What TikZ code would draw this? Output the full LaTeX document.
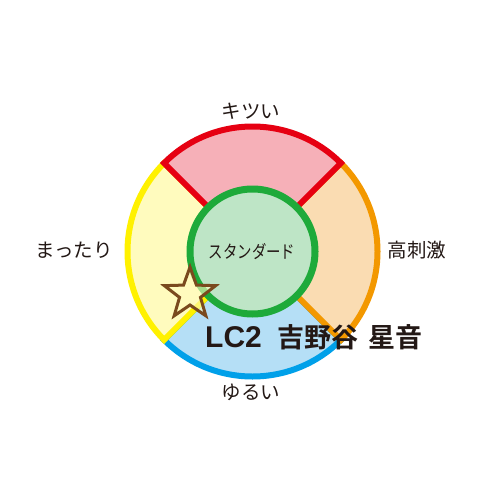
\documentclass[tikz,border=0pt]{standalone}
\usepackage{fontspec}
\usetikzlibrary{calc}
\newfontfamily\cjk{Noto Sans CJK JP}
\newfontfamily\cjkb{Noto Sans CJK JP Bold}
\newfontfamily\latb{Liberation Sans Bold}
\definecolor{cred}{HTML}{E60012}
\definecolor{fred}{HTML}{F6B0B8}
\definecolor{corange}{HTML}{F39800}
\definecolor{forange}{HTML}{FADCB2}
\definecolor{cyellow}{HTML}{FFF100}
\definecolor{fyellow}{HTML}{FFFBBE}
\definecolor{cblue}{HTML}{00A0E9}
\definecolor{fblue}{HTML}{B5DFF6}
\definecolor{cgreen}{HTML}{1EAA3A}
\definecolor{fgreen}{HTML}{BEE5C6}
\definecolor{cbrown}{HTML}{7A4A1E}
\definecolor{ctext}{HTML}{231815}
\begin{document}
\begin{tikzpicture}[x=1pt,y=-1pt,
  sector/.style={line width=6pt,line join=miter},
  lbl/.style={font=\cjk\fontsize{19.5}{19.5}\selectfont,text=ctext,inner sep=0pt},
  namecjk/.style={font=\cjkb\fontsize{27}{27}\selectfont,text=ctext,inner sep=0pt,anchor=west}]
\useasboundingbox (0,0) rectangle (500,500);
\fill[white] (0,0) rectangle (500,500);
\coordinate (c) at (252.5,251.5);
\def\R{125}
\draw[sector,draw=cblue,fill=fblue] (c) -- ++(45:\R) arc[start angle=45,end angle=135,radius=\R] -- cycle;
\draw[sector,draw=corange,fill=forange] (c) -- ++(-45:\R) arc[start angle=-45,end angle=45,radius=\R] -- cycle;
\draw[sector,draw=cyellow,fill=fyellow] (c) -- ++(135:\R) arc[start angle=135,end angle=225,radius=\R] -- cycle;
\draw[sector,draw=cred,fill=fred] (c) -- ++(225:\R) arc[start angle=225,end angle=315,radius=\R] -- cycle;
\draw[line width=7pt,draw=cgreen,fill=fgreen] (c) circle[radius=62.5];
\node[lbl,font=\cjk\fontsize{15.5}{15.5}\selectfont] (std) at (252,252) {\scalebox{0.93}[1.15]{スタンダード}};
\coordinate (s) at (190,294);
\draw[line width=3pt,draw=cbrown,fill=fyellow,fill opacity=0.6,line join=miter]
  ($(s)+(270:27)$) -- ($(s)+(306:11)$) -- ($(s)+(342:27)$) -- ($(s)+(18:11)$) -- ($(s)+(54:27)$)
  -- ($(s)+(90:11)$) -- ($(s)+(126:27)$) -- ($(s)+(162:11)$) -- ($(s)+(198:27)$) -- ($(s)+(234:11)$) -- cycle;
\node[lbl] (top) at (251,111) {キツい};
\node[lbl] (left) at (74,250) {まったり};
\node[lbl] (right) at (417,250) {高刺激};
\node[lbl] (bottom) at (251,392) {ゆるい};
\node[namecjk,font=\latb\fontsize{30}{30}\selectfont] (lc) at (205,337) {LC2};
\node[namecjk] (fam) at (277,337) {吉野谷};
\node[namecjk] (given) at (368,337) {星音};
\end{tikzpicture}
\end{document}
